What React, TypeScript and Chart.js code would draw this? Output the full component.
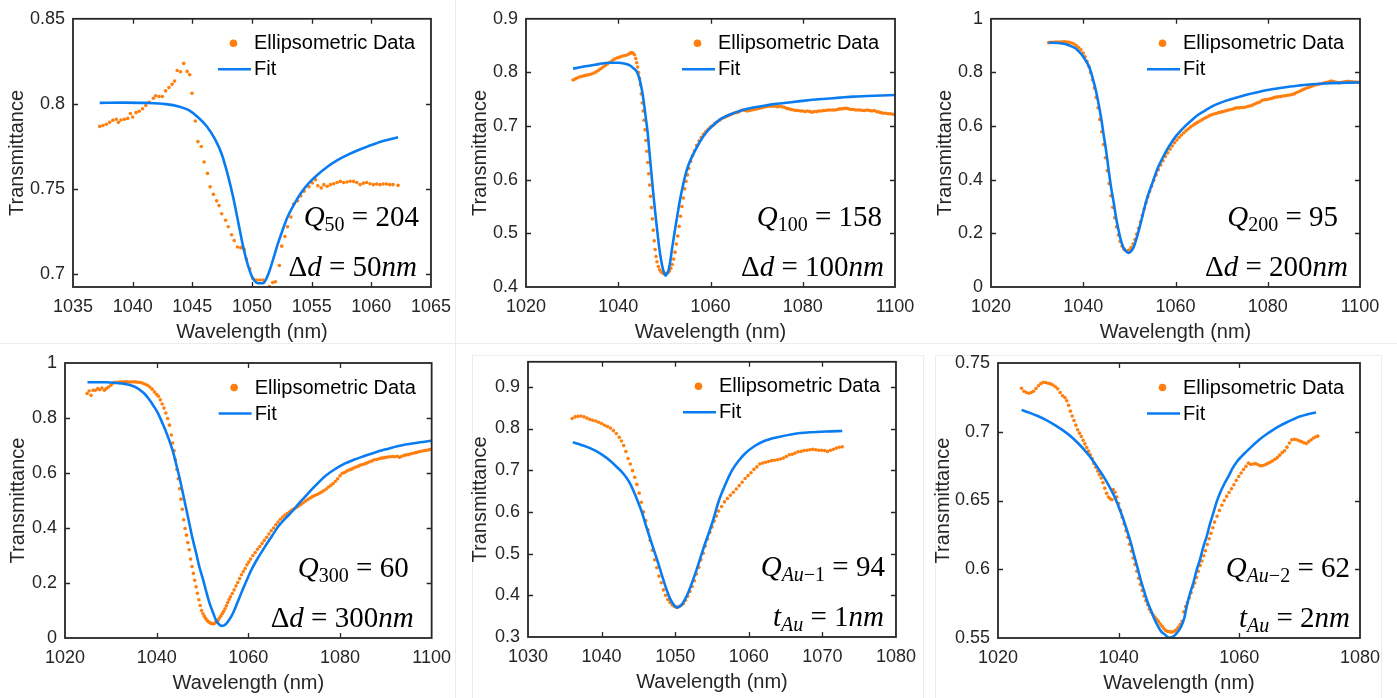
import React, { useEffect, useRef } from "react";
import { Chart, registerables } from "chart.js";
Chart.register(...registerables);

// ---------------- DATA ----------------
const legendLabels = ["Ellipsometric Data", "Fit"];
const xTitle = "Wavelength (nm)";
const yTitle = "Transmittance";

// Panel 1 (Δd = 50 nm)
const p1XTicks = [1035, 1040, 1045, 1050, 1055, 1060, 1065];
const p1YTicks = [0.7, 0.75, 0.8, 0.85];
const p1Data: [number, number][] = [
  [1037.24,0.7868],[1037.51,0.7873],[1037.79,0.7881],[1038.07,0.7892],[1038.34,0.7904],[1038.62,0.791],[1038.81,0.7892],[1039.03,0.7906],[1039.31,0.791],[1039.59,0.7915],
  [1039.81,0.7944],[1040.0,0.7923],[1040.28,0.7949],[1040.55,0.7957],[1040.83,0.7972],[1041.1,0.7991],[1041.38,0.801],[1041.74,0.8033],[1041.93,0.8048],[1042.21,0.8044],
  [1042.49,0.8044],[1042.76,0.8077],[1043.04,0.8096],[1043.31,0.8115],[1043.51,0.8134],[1043.73,0.8196],[1044.01,0.8189],[1044.28,0.8238],[1044.56,0.8191],[1044.78,0.8172],
  [1044.97,0.8063],[1045.25,0.79],[1045.47,0.7779],[1045.75,0.775],[1045.99,0.7659],[1046.27,0.7592],[1046.49,0.7513],[1046.77,0.7469],[1047.04,0.7431],[1047.24,0.7403],
  [1047.46,0.7355],[1047.79,0.7317],[1048.01,0.7279],[1048.29,0.7232],[1048.51,0.7198],[1048.78,0.716],[1049.06,0.7156],[1049.34,0.7146],[1049.53,0.7089],[1049.81,0.7032],
  [1050.08,0.6975],[1050.36,0.6966],[1050.64,0.6966],[1050.91,0.6966],[1051.19,0.6913],[1051.46,0.6928],[1051.74,0.6951],[1051.96,0.6956],[1052.29,0.7051],[1052.49,0.7165],
  [1052.76,0.7222],[1052.98,0.7279],[1053.26,0.7336],[1053.48,0.7412],[1053.81,0.7431],[1054.09,0.746],[1054.36,0.7488],[1054.78,0.7513],[1055.06,0.7536],[1055.33,0.7555],
  [1055.52,0.752],[1055.8,0.7507],[1056.02,0.7526],[1056.3,0.7517],[1056.57,0.7526],[1056.85,0.7531],[1057.13,0.7539],[1057.4,0.7545],[1057.68,0.7539],[1057.96,0.7542],
  [1058.23,0.7546],[1058.51,0.7545],[1058.78,0.7539],[1059.06,0.7526],[1059.34,0.7535],[1059.61,0.7539],[1059.89,0.7531],[1060.17,0.7526],[1060.44,0.753],[1060.72,0.7526],
  [1060.99,0.753],[1061.27,0.753],[1061.55,0.7526],[1061.82,0.7526],[1062.24,0.7522]
];
const p1Fit: [number, number][] = [
  [1037.24,0.8006],[1039.17,0.8008],[1041.1,0.8006],[1042.76,0.7999],[1043.87,0.7985],[1044.7,0.7963],[1045.52,0.7919],[1046.22,0.7868],[1046.91,0.7792],[1047.46,0.7706],
  [1048.01,0.7573],[1048.43,0.745],[1048.84,0.7308],[1049.25,0.7165],[1049.67,0.7051],[1050.08,0.6975],[1050.5,0.6947],[1050.91,0.6947],[1051.33,0.6994],[1051.74,0.708],
  [1052.15,0.7175],[1052.57,0.726],[1052.98,0.7336],[1053.54,0.7412],[1054.09,0.7475],[1054.78,0.7536],[1055.47,0.7583],[1056.3,0.763],[1057.13,0.7668],[1057.96,0.7699],
  [1058.78,0.7725],[1059.61,0.7748],[1060.72,0.7777],[1062.24,0.7805]
];
const p1Note1: [string, string][] = [["Q","i"],["50","sr"],[" = 204","r"]];
const p1Note2: [string, string][] = [["Δ","r"],["d","i"],[" = 50","r"],["nm","i"]];

// Panel 2 (Δd = 100 nm)
const p2XTicks = [1020, 1040, 1060, 1080, 1100];
const p2YTicks = [0.4, 0.5, 0.6, 0.7, 0.8, 0.9];
const p2Data: [number, number][] = [
  [1030.2,0.786],[1030.7,0.788],[1031.2,0.79],[1031.7,0.792],[1032.2,0.793],[1032.7,0.794],[1033.2,0.795],[1033.7,0.796],[1034.2,0.797],[1034.7,0.799],
  [1035.2,0.801],[1035.7,0.804],[1036.2,0.807],[1036.7,0.81],[1037.2,0.813],[1037.7,0.816],[1038.2,0.819],[1038.7,0.822],[1039.2,0.825],[1039.7,0.827],
  [1040.2,0.828],[1040.7,0.83],[1041.2,0.831],[1041.7,0.832],[1042.2,0.834],[1042.6,0.836],[1042.9,0.837],[1043.2,0.836],[1043.5,0.833],[1043.8,0.826],
  [1044.0,0.818],[1044.2,0.81],[1044.4,0.8],[1044.6,0.789],[1044.8,0.777],[1045.0,0.76],[1045.2,0.743],[1045.4,0.728],[1045.6,0.711],[1045.8,0.693],
  [1046.0,0.673],[1046.2,0.653],[1046.4,0.632],[1046.6,0.611],[1046.8,0.59],[1047.0,0.569],[1047.2,0.548],[1047.4,0.527],[1047.6,0.506],[1047.8,0.486],
  [1048.0,0.47],[1048.2,0.457],[1048.4,0.447],[1048.7,0.438],[1049.0,0.432],[1049.3,0.428],[1049.6,0.426],[1049.9,0.425],[1050.2,0.425],[1050.5,0.425],
  [1050.8,0.427],[1051.1,0.43],[1051.4,0.435],[1051.7,0.442],[1052.0,0.452],[1052.3,0.465],[1052.6,0.48],[1052.9,0.495],[1053.2,0.513],[1053.5,0.532],
  [1053.8,0.55],[1054.1,0.566],[1054.4,0.583],[1054.7,0.597],[1055.0,0.609],[1055.3,0.621],[1055.7,0.634],[1056.1,0.645],[1056.5,0.654],[1057.0,0.664],
  [1057.5,0.672],[1058.0,0.679],[1058.5,0.685],[1059.0,0.69],[1059.5,0.694],[1060.0,0.698],[1060.5,0.701],[1061.0,0.705],[1061.5,0.708],[1062.0,0.711],
  [1062.5,0.714],[1063.0,0.716],[1063.5,0.718],[1064.0,0.72],[1064.5,0.722],[1065.0,0.724],[1065.5,0.725],[1066.0,0.726],[1066.5,0.728],[1067.0,0.73],
  [1067.5,0.729],[1068.0,0.728],[1068.5,0.729],[1069.0,0.73],[1069.5,0.731],[1070.0,0.732],[1070.5,0.733],[1071.0,0.734],[1071.5,0.735],[1072.0,0.736],
  [1072.5,0.737],[1073.0,0.737],[1073.5,0.737],[1074.0,0.737],[1074.5,0.736],[1075.0,0.737],[1075.5,0.736],[1076.0,0.735],[1076.5,0.733],[1077.0,0.732],
  [1077.5,0.731],[1078.0,0.73],[1078.5,0.729],[1079.0,0.729],[1079.5,0.728],[1080.0,0.728],[1080.5,0.727],[1081.0,0.728],[1081.5,0.727],[1082.0,0.726],
  [1082.5,0.727],[1083.0,0.727],[1083.5,0.728],[1084.0,0.728],[1084.5,0.729],[1085.0,0.729],[1085.5,0.73],[1086.0,0.73],[1086.5,0.73],[1087.0,0.73],
  [1087.5,0.731],[1088.0,0.732],[1088.5,0.732],[1089.0,0.733],[1089.5,0.733],[1090.0,0.732],[1090.5,0.731],[1091.0,0.731],[1091.5,0.73],[1092.0,0.73],
  [1092.5,0.73],[1093.0,0.729],[1093.5,0.729],[1094.0,0.73],[1094.5,0.729],[1095.0,0.728],[1095.5,0.729],[1096.0,0.727],[1096.5,0.726],[1097.0,0.725],
  [1097.5,0.724],[1098.0,0.724],[1098.5,0.723],[1099.0,0.723],[1099.5,0.722],[1100.0,0.722]
];
const p2Fit: [number, number][] = [
  [1030.2,0.807],[1032,0.81],[1034,0.813],[1036,0.816],[1038,0.818],[1040,0.818],[1041.5,0.816],[1042.5,0.813],[1043.3,0.808],[1043.9,0.803],
  [1044.3,0.796],[1044.6,0.788],[1045.0,0.773],[1045.3,0.759],[1045.7,0.734],[1046.1,0.707],[1046.4,0.686],[1046.8,0.648],[1047.2,0.611],[1047.5,0.583],
  [1047.9,0.549],[1048.2,0.524],[1048.6,0.494],[1049.0,0.466],[1049.3,0.45],[1049.7,0.433],[1050.0,0.425],[1050.25,0.421],[1050.5,0.424],[1050.9,0.431],
  [1051.3,0.449],[1051.6,0.468],[1052.0,0.49],[1052.4,0.512],[1052.9,0.538],[1053.4,0.563],[1054.0,0.588],[1054.5,0.607],[1055.2,0.627],[1056.0,0.643],
  [1057.0,0.66],[1058.0,0.675],[1059.0,0.687],[1060.0,0.697],[1061.0,0.705],[1062.0,0.712],[1063.5,0.719],[1065.0,0.724],[1067.0,0.73],[1069.0,0.734],
  [1071.0,0.737],[1073.0,0.74],[1076.0,0.743],[1079.0,0.746],[1082.0,0.749],[1085.0,0.751],[1088.0,0.753],[1091.0,0.755],[1094.0,0.756],[1097.0,0.757],[1100.0,0.758]
];
const p2Note1: [string, string][] = [["Q","i"],["100","sr"],[" = 158","r"]];
const p2Note2: [string, string][] = [["Δ","r"],["d","i"],[" = 100","r"],["nm","i"]];

// Panel 3 (Δd = 200 nm)
const p3XTicks = [1020, 1040, 1060, 1080, 1100];
const p3YTicks = [0, 0.2, 0.4, 0.6, 0.8, 1];
const p3Data: [number, number][] = [
  [1032.5,0.911],[1033.0,0.912],[1033.5,0.912],[1034.0,0.913],[1034.5,0.913],[1035.0,0.913],[1035.5,0.914],[1036.0,0.914],[1036.5,0.913],[1037.0,0.912],
  [1037.5,0.91],[1038.0,0.906],[1038.5,0.9],[1039.0,0.893],[1039.5,0.884],[1040.0,0.872],[1040.4,0.858],[1040.8,0.842],[1041.2,0.823],[1041.6,0.8],
  [1042.0,0.773],[1042.4,0.742],[1042.8,0.707],[1043.2,0.668],[1043.6,0.625],[1044.0,0.579],[1044.4,0.531],[1044.8,0.482],[1045.2,0.434],[1045.6,0.386],
  [1046.0,0.34],[1046.4,0.297],[1046.8,0.258],[1047.2,0.224],[1047.6,0.194],[1048.0,0.17],[1048.4,0.153],[1048.8,0.142],[1049.2,0.136],[1049.6,0.134],
  [1050.0,0.138],[1050.4,0.147],[1050.8,0.16],[1051.2,0.177],[1051.6,0.197],[1052.0,0.219],[1052.4,0.243],[1052.8,0.267],[1053.2,0.291],[1053.6,0.314],
  [1054.0,0.336],[1054.4,0.356],[1054.8,0.376],[1055.3,0.398],[1055.8,0.418],[1056.3,0.437],[1056.8,0.455],[1057.3,0.471],[1057.8,0.487],[1058.3,0.5],
  [1058.8,0.514],[1059.3,0.526],[1059.8,0.538],[1060.3,0.548],[1060.8,0.558],[1061.3,0.567],[1061.8,0.575],[1062.3,0.583],[1062.8,0.59],[1063.3,0.597],
  [1063.8,0.603],[1064.3,0.609],[1064.8,0.614],[1065.3,0.619],[1065.8,0.624],[1066.3,0.629],[1066.8,0.634],[1067.3,0.638],[1067.8,0.642],[1068.3,0.645],
  [1068.8,0.647],[1069.3,0.65],[1069.8,0.652],[1070.3,0.654],[1070.8,0.656],[1071.3,0.659],[1071.8,0.661],[1072.3,0.663],[1072.8,0.666],[1073.3,0.668],
  [1073.8,0.668],[1074.3,0.669],[1074.8,0.669],[1075.3,0.671],[1075.8,0.674],[1076.3,0.676],[1076.8,0.679],[1077.3,0.683],[1077.8,0.687],[1078.3,0.69],
  [1078.8,0.696],[1079.3,0.698],[1079.8,0.699],[1080.3,0.701],[1080.8,0.703],[1081.3,0.706],[1081.8,0.708],[1082.3,0.709],[1082.8,0.71],[1083.3,0.712],
  [1083.8,0.713],[1084.3,0.715],[1084.8,0.716],[1085.3,0.718],[1085.8,0.721],[1086.3,0.725],[1086.8,0.729],[1087.3,0.733],[1087.8,0.737],[1088.3,0.741],
  [1088.8,0.744],[1089.3,0.747],[1089.8,0.75],[1090.3,0.753],[1090.8,0.755],[1091.3,0.757],[1091.8,0.759],[1092.3,0.761],[1092.8,0.763],[1093.3,0.765],
  [1093.8,0.768],[1094.3,0.766],[1094.8,0.763],[1095.3,0.761],[1095.8,0.762],[1096.3,0.764],[1096.8,0.765],[1097.3,0.767],[1097.8,0.766],[1098.3,0.765],
  [1098.8,0.764],[1099.3,0.764],[1099.8,0.763]
];
const p3Fit: [number, number][] = [
  [1032.5,0.911],[1034.5,0.91],[1036.1,0.906],[1037.2,0.899],[1038.3,0.89],[1039.0,0.879],[1039.7,0.866],[1040.4,0.848],[1041.2,0.824],[1041.7,0.799],
  [1042.2,0.769],[1042.8,0.728],[1043.3,0.685],[1043.9,0.628],[1044.4,0.57],[1045.0,0.503],[1045.5,0.437],[1046.0,0.375],[1046.6,0.316],[1047.1,0.26],
  [1047.7,0.208],[1048.2,0.172],[1048.7,0.147],[1049.3,0.133],[1049.8,0.127],[1050.3,0.132],[1050.9,0.147],[1051.4,0.172],[1052.0,0.208],[1052.7,0.255],
  [1053.4,0.304],[1054.1,0.345],[1054.9,0.383],[1055.6,0.418],[1056.3,0.449],[1057.2,0.481],[1058.1,0.51],[1059.0,0.535],[1059.9,0.558],[1061.0,0.58],
  [1062.1,0.6],[1063.5,0.622],[1065.0,0.643],[1066.8,0.662],[1068.6,0.679],[1070.7,0.693],[1072.9,0.705],[1075.4,0.717],[1078.0,0.727],[1080.9,0.737],
  [1083.8,0.745],[1086.7,0.751],[1089.5,0.756],[1092.4,0.759],[1095.3,0.761],[1097.6,0.762],[1100.0,0.763]
];
const p3Note1: [string, string][] = [["Q","i"],["200","sr"],[" = 95","r"]];
const p3Note2: [string, string][] = [["Δ","r"],["d","i"],[" = 200","r"],["nm","i"]];

// Panel 4 (Δd = 300 nm)
const p4XTicks = [1020, 1040, 1060, 1080, 1100];
const p4YTicks = [0, 0.2, 0.4, 0.6, 0.8, 1];
const p4Data: [number, number][] = [
  [1024.83,0.889],[1025.26,0.898],[1025.69,0.883],[1026.13,0.901],[1026.63,0.901],[1027.14,0.907],[1027.57,0.903],[1028.07,0.909],[1028.58,0.901],[1029.01,0.907],
  [1029.51,0.913],[1030.02,0.919],[1030.52,0.927],[1031.03,0.93],[1031.53,0.93],[1032.04,0.932],[1032.54,0.931],[1033.05,0.932],[1033.55,0.932],[1034.05,0.931],
  [1034.56,0.931],[1035.06,0.932],[1035.5,0.931],[1036.0,0.93],[1036.5,0.929],[1037.0,0.926],[1037.5,0.923],[1038.0,0.919],[1038.5,0.913],[1039.0,0.905],
  [1039.5,0.895],[1040.0,0.886],[1040.4,0.879],[1040.8,0.866],[1041.2,0.851],[1041.6,0.836],[1042.0,0.818],[1042.4,0.798],[1042.8,0.774],[1043.2,0.738],
  [1043.5,0.709],[1043.8,0.681],[1044.1,0.648],[1044.4,0.613],[1044.7,0.579],[1045.0,0.543],[1045.3,0.505],[1045.6,0.468],[1045.9,0.43],[1046.2,0.398],
  [1046.5,0.374],[1046.8,0.347],[1047.1,0.321],[1047.4,0.287],[1047.7,0.26],[1048.0,0.235],[1048.3,0.21],[1048.6,0.186],[1048.9,0.163],[1049.2,0.139],
  [1049.5,0.118],[1049.8,0.1],[1050.1,0.088],[1050.4,0.079],[1050.7,0.071],[1051.0,0.064],[1051.3,0.059],[1051.6,0.056],[1051.9,0.053],[1052.2,0.052],
  [1052.5,0.052],[1052.8,0.056],[1053.1,0.06],[1053.4,0.065],[1053.7,0.073],[1054.0,0.08],[1054.3,0.088],[1054.6,0.096],[1054.9,0.106],[1055.2,0.117],
  [1055.5,0.129],[1055.8,0.14],[1056.1,0.15],[1056.5,0.162],[1056.9,0.175],[1057.3,0.189],[1057.7,0.202],[1058.1,0.216],[1058.5,0.23],[1058.9,0.242],
  [1059.3,0.253],[1059.7,0.266],[1060.1,0.276],[1060.5,0.287],[1061.0,0.3],[1061.5,0.311],[1062.0,0.323],[1062.5,0.333],[1063.0,0.344],[1063.5,0.355],
  [1064.0,0.366],[1064.5,0.378],[1065.0,0.39],[1065.5,0.4],[1066.0,0.412],[1066.5,0.422],[1067.0,0.432],[1067.5,0.44],[1068.0,0.447],[1068.5,0.453],
  [1069.0,0.459],[1069.5,0.465],[1070.0,0.47],[1070.5,0.475],[1071.0,0.48],[1071.5,0.486],[1072.0,0.492],[1072.5,0.498],[1073.0,0.504],[1073.5,0.509],
  [1074.0,0.514],[1074.5,0.518],[1075.0,0.522],[1075.5,0.526],[1076.0,0.531],[1076.5,0.536],[1077.0,0.542],[1077.5,0.549],[1078.0,0.555],[1078.5,0.562],
  [1079.0,0.57],[1079.5,0.579],[1080.0,0.59],[1080.5,0.599],[1081.0,0.602],[1081.5,0.607],[1082.0,0.611],[1082.5,0.614],[1083.0,0.618],[1083.5,0.622],
  [1084.0,0.625],[1084.5,0.629],[1085.0,0.631],[1085.5,0.634],[1086.0,0.637],[1086.5,0.641],[1087.0,0.644],[1087.5,0.648],[1088.0,0.649],[1088.5,0.652],
  [1089.0,0.654],[1089.5,0.655],[1090.0,0.657],[1090.5,0.658],[1091.0,0.659],[1091.5,0.66],[1092.0,0.659],[1092.5,0.661],[1093.0,0.657],[1093.5,0.661],
  [1094.0,0.664],[1094.5,0.666],[1095.0,0.667],[1095.5,0.67],[1096.0,0.672],[1096.5,0.674],[1097.0,0.676],[1097.5,0.678],[1098.0,0.68],[1098.5,0.682],
  [1099.0,0.683],[1099.5,0.685],[1100.0,0.686]
];
const p4Fit: [number, number][] = [
  [1024.9,0.93],[1027.0,0.93],[1029.0,0.93],[1031.3,0.927],[1033.0,0.924],[1034.3,0.919],[1035.5,0.911],[1036.5,0.9],[1037.3,0.889],[1038.3,0.869],
  [1039.4,0.842],[1040.3,0.817],[1041.25,0.782],[1042.0,0.752],[1042.7,0.721],[1043.5,0.681],[1044.2,0.636],[1045.0,0.582],[1045.7,0.528],[1046.4,0.474],
  [1047.1,0.419],[1047.8,0.364],[1048.6,0.31],[1049.3,0.26],[1050.1,0.214],[1050.8,0.17],[1051.5,0.129],[1052.3,0.092],[1053.0,0.063],[1053.6,0.05],
  [1054.1,0.044],[1054.6,0.045],[1055.2,0.052],[1055.9,0.068],[1056.7,0.092],[1057.6,0.128],[1058.5,0.165],[1059.6,0.208],[1060.7,0.249],[1062.2,0.294],
  [1063.7,0.334],[1065.2,0.372],[1066.6,0.407],[1068.1,0.435],[1069.6,0.461],[1071.0,0.489],[1072.5,0.516],[1074.0,0.543],[1075.4,0.567],[1077.0,0.592],
  [1079.0,0.615],[1081.0,0.634],[1083.0,0.648],[1085.0,0.66],[1087.5,0.674],[1090.0,0.686],[1093.0,0.699],[1096.5,0.709],[1100.0,0.717]
];
const p4Note1: [string, string][] = [["Q","i"],["300","sr"],[" = 60","r"]];
const p4Note2: [string, string][] = [["Δ","r"],["d","i"],[" = 300","r"],["nm","i"]];

// Panel 5 (t_Au = 1 nm)
const p5XTicks = [1030, 1040, 1050, 1060, 1070, 1080];
const p5YTicks = [0.3, 0.4, 0.5, 0.6, 0.7, 0.8, 0.9];
const p5Data: [number, number][] = [
  [1036.0,0.824],[1036.4,0.828],[1036.8,0.829],[1037.2,0.83],[1037.6,0.828],[1038.0,0.825],[1038.4,0.822],[1038.8,0.82],[1039.2,0.818],[1039.6,0.815],
  [1040.0,0.812],[1040.4,0.808],[1040.8,0.805],[1041.2,0.801],[1041.6,0.795],[1042.0,0.788],[1042.4,0.779],[1042.7,0.77],[1043.0,0.759],[1043.3,0.745],
  [1043.6,0.728],[1043.9,0.715],[1044.2,0.699],[1044.5,0.683],[1044.8,0.666],[1045.1,0.645],[1045.4,0.623],[1045.7,0.6],[1046.0,0.579],[1046.3,0.557],
  [1046.6,0.532],[1046.9,0.508],[1047.2,0.485],[1047.5,0.466],[1047.8,0.446],[1048.1,0.43],[1048.4,0.413],[1048.7,0.4],[1049.0,0.39],[1049.3,0.383],
  [1049.6,0.377],[1049.9,0.373],[1050.2,0.371],[1050.5,0.373],[1050.8,0.376],[1051.1,0.38],[1051.4,0.388],[1051.7,0.398],[1052.0,0.409],[1052.3,0.421],
  [1052.6,0.435],[1052.9,0.451],[1053.2,0.467],[1053.5,0.485],[1053.8,0.501],[1054.1,0.518],[1054.4,0.535],[1054.7,0.551],[1055.0,0.564],[1055.3,0.578],
  [1055.6,0.59],[1055.9,0.602],[1056.3,0.613],[1056.7,0.624],[1057.1,0.632],[1057.5,0.64],[1057.9,0.647],[1058.3,0.655],[1058.7,0.663],[1059.1,0.671],
  [1059.5,0.68],[1059.9,0.687],[1060.3,0.694],[1060.7,0.702],[1061.1,0.708],[1061.5,0.715],[1061.9,0.717],[1062.3,0.719],[1062.7,0.721],[1063.1,0.723],
  [1063.5,0.724],[1063.9,0.725],[1064.3,0.727],[1064.7,0.729],[1065.1,0.733],[1065.5,0.737],[1065.9,0.738],[1066.3,0.741],[1066.7,0.744],[1067.1,0.745],
  [1067.5,0.747],[1067.9,0.748],[1068.3,0.749],[1068.7,0.75],[1069.1,0.749],[1069.5,0.748],[1069.9,0.748],[1070.3,0.747],[1070.7,0.745],[1071.1,0.748],
  [1071.5,0.75],[1071.9,0.753],[1072.3,0.755],[1072.7,0.756]
];
const p5Fit: [number, number][] = [
  [1036.1,0.767],[1037.0,0.762],[1038.0,0.756],[1039.0,0.748],[1040.0,0.738],[1041.0,0.725],[1042.0,0.709],[1043.0,0.691],[1043.7,0.673],[1044.3,0.652],
  [1044.9,0.626],[1045.5,0.598],[1046.0,0.569],[1046.5,0.541],[1047.0,0.514],[1047.6,0.482],[1048.2,0.448],[1048.8,0.415],[1049.3,0.392],[1049.7,0.38],
  [1050.0,0.374],[1050.3,0.371],[1050.6,0.373],[1050.9,0.378],[1051.3,0.389],[1051.8,0.408],[1052.3,0.431],[1052.9,0.461],[1053.5,0.494],[1054.1,0.526],
  [1054.7,0.556],[1055.2,0.583],[1055.9,0.625],[1056.8,0.665],[1057.7,0.699],[1058.6,0.722],[1059.5,0.74],[1060.8,0.758],[1062.1,0.77],[1063.9,0.779],
  [1066.1,0.787],[1068.3,0.791],[1070.5,0.793],[1072.7,0.794]
];
const p5Note1: [string, string][] = [["Q","i"],["Au","si"],["−1","sr"],[" = 94","r"]];
const p5Note2: [string, string][] = [["t","i"],["Au","si"],[" = 1","r"],["nm","i"]];

// Panel 6 (t_Au = 2 nm)
const p6XTicks = [1020, 1040, 1060, 1080];
const p6YTicks = [0.55, 0.6, 0.65, 0.7, 0.75];
const p6Data: [number, number][] = [
  [1023.9,0.7316],[1024.3,0.7295],[1024.7,0.7285],[1025.1,0.728],[1025.5,0.7285],[1025.9,0.7295],[1026.3,0.7315],[1026.7,0.7335],[1027.1,0.735],[1027.5,0.736],
  [1027.9,0.7358],[1028.3,0.7353],[1028.7,0.7348],[1029.1,0.734],[1029.5,0.7328],[1029.9,0.7312],[1030.3,0.7285],[1030.7,0.7262],[1031.1,0.7248],[1031.4,0.7225],
  [1031.7,0.7192],[1032.0,0.715],[1032.3,0.7115],[1032.6,0.7082],[1032.9,0.7048],[1033.2,0.7015],[1033.5,0.699],[1033.8,0.6965],[1034.1,0.6938],[1034.4,0.6912],
  [1034.7,0.6885],[1035.0,0.6859],[1035.3,0.6832],[1035.6,0.6805],[1035.9,0.677],[1036.2,0.6742],[1036.5,0.6715],[1036.8,0.669],[1037.1,0.6663],[1037.4,0.663],
  [1037.7,0.659],[1038.0,0.6552],[1038.3,0.6525],[1038.6,0.6512],[1038.9,0.6505],[1039.1,0.658],[1039.4,0.656],[1039.7,0.6525],[1040.0,0.6478],[1040.3,0.6428],
  [1040.6,0.6378],[1040.9,0.633],[1041.2,0.628],[1041.5,0.6232],[1041.8,0.6182],[1042.1,0.6132],[1042.4,0.6082],[1042.7,0.6034],[1043.0,0.5985],[1043.3,0.5935],
  [1043.6,0.589],[1043.9,0.5845],[1044.2,0.5805],[1044.5,0.5772],[1044.8,0.5742],[1045.1,0.571],[1045.4,0.5688],[1045.7,0.5668],[1046.0,0.5652],[1046.3,0.5636],
  [1046.6,0.562],[1046.9,0.5602],[1047.2,0.5586],[1047.5,0.5568],[1047.8,0.5555],[1048.1,0.5548],[1048.4,0.5545],[1048.7,0.5544],[1049.0,0.5546],[1049.3,0.5552],
  [1049.6,0.5562],[1049.9,0.5578],[1050.2,0.5597],[1050.5,0.5622],[1050.8,0.569],[1051.1,0.5728],[1051.4,0.5758],[1051.7,0.5793],[1052.0,0.583],[1052.3,0.5872],
  [1052.6,0.59],[1052.9,0.594],[1053.2,0.5985],[1053.5,0.6028],[1053.8,0.606],[1054.1,0.6098],[1054.4,0.6135],[1054.7,0.618],[1055.0,0.6222],[1055.3,0.6262],
  [1055.6,0.6302],[1055.9,0.6343],[1056.3,0.6385],[1056.7,0.6428],[1057.1,0.6465],[1057.5,0.65],[1057.9,0.653],[1058.3,0.6558],[1058.7,0.6585],[1059.1,0.6615],
  [1059.5,0.6645],[1059.9,0.6675],[1060.3,0.67],[1060.7,0.6725],[1061.1,0.6748],[1061.5,0.6772],[1061.9,0.6762],[1062.3,0.6765],[1062.7,0.6768],[1063.1,0.676],
  [1063.5,0.6752],[1063.9,0.6755],[1064.3,0.676],[1064.7,0.677],[1065.1,0.6778],[1065.5,0.6788],[1065.9,0.68],[1066.3,0.6812],[1066.7,0.683],[1067.1,0.6848],
  [1067.5,0.6862],[1067.9,0.6888],[1068.3,0.6918],[1068.7,0.6942],[1069.1,0.6946],[1069.5,0.6942],[1069.9,0.6935],[1070.3,0.6928],[1070.7,0.692],[1071.1,0.6914],
  [1071.5,0.6928],[1071.9,0.6942],[1072.3,0.6955],[1072.7,0.6964],[1073.0,0.6968]
];
const p6Fit: [number, number][] = [
  [1023.9,0.7159],[1025.0,0.7142],[1026.5,0.7116],[1028.0,0.7084],[1029.5,0.7046],[1031.0,0.7003],[1032.1,0.6966],[1033.2,0.692],[1034.3,0.6869],[1035.2,0.6822],
  [1036.0,0.6772],[1036.8,0.672],[1037.6,0.6666],[1038.5,0.6598],[1039.3,0.653],[1040.0,0.6455],[1040.7,0.6373],[1041.4,0.628],[1042.1,0.618],[1042.6,0.6095],
  [1043.2,0.5999],[1043.7,0.5915],[1044.3,0.5829],[1044.8,0.576],[1045.4,0.5696],[1045.9,0.564],[1046.5,0.5587],[1047.0,0.555],[1047.6,0.5527],[1048.0,0.551],
  [1048.4,0.5502],[1048.8,0.5506],[1049.3,0.5519],[1049.8,0.5545],[1050.4,0.5587],[1050.9,0.565],[1051.3,0.5735],[1051.8,0.582],[1052.4,0.5905],[1052.9,0.599],
  [1053.5,0.6074],[1054.0,0.6158],[1054.6,0.624],[1055.1,0.6325],[1055.7,0.641],[1056.2,0.6485],[1056.8,0.6555],[1057.5,0.662],[1058.2,0.6675],[1058.8,0.6728],
  [1059.5,0.6777],[1060.3,0.6818],[1061.2,0.6857],[1062.3,0.6903],[1063.4,0.6946],[1064.5,0.6982],[1065.6,0.7014],[1066.7,0.7042],[1067.8,0.7067],[1068.9,0.709],
  [1070.0,0.7111],[1071.3,0.7127],[1072.7,0.714]
];
const p6Note1: [string, string][] = [["Q","i"],["Au","si"],["−2","sr"],[" = 62","r"]];
const p6Note2: [string, string][] = [["t","i"],["Au","si"],[" = 2","r"],["nm","i"]];

// ---------------- STYLE / LAYOUT ----------------
const ORANGE = "#ff7f0e";
const BLUE = "#0a7cf2";
const AXIS = "#262626";
const SANS = '"Liberation Sans", Arial, Helvetica, sans-serif';
const SERIF = '"Liberation Serif", "Times New Roman", serif';
const MAIN_PX = 29;
const SUB_PX = 20;
const SUB_SHIFT = 5;

type Rect = { x: number; y: number; w: number; h: number };
type Plot = { l: number; t: number; r: number; b: number };
type PanelCfg = {
  canvas: Rect; plot: Plot; yTitleX: number; xTitleY: number;
  xMin: number; xMax: number; yMin: number; yMax: number;
  xTicks: number[]; yTicks: number[];
  data: [number, number][]; fit: [number, number][];
  note1: [string, string][]; note2: [string, string][];
  note1Right: number; note2Right: number;
};

const panels: PanelCfg[] = [
  { canvas: { x: 0, y: 0, w: 460, h: 350 }, plot: { l: 73, t: 11, r: 435, b: 287 }, yTitleX: 17, xTitleY: 332,
    xMin: 1035, xMax: 1065, yMin: 0.6925, yMax: 0.85, xTicks: p1XTicks, yTicks: p1YTicks, data: p1Data, fit: p1Fit,
    note1: p1Note1, note2: p1Note2, note1Right: 12, note2Right: 14 },
  { canvas: { x: 460, y: 0, w: 465, h: 350 }, plot: { l: 526, t: 11, r: 895, b: 287 }, yTitleX: 480, xTitleY: 332,
    xMin: 1020, xMax: 1100, yMin: 0.4, yMax: 0.9, xTicks: p2XTicks, yTicks: p2YTicks, data: p2Data, fit: p2Fit,
    note1: p2Note1, note2: p2Note2, note1Right: 13, note2Right: 11 },
  { canvas: { x: 925, y: 0, w: 472, h: 350 }, plot: { l: 991, t: 11, r: 1360, b: 287 }, yTitleX: 945, xTitleY: 332,
    xMin: 1020, xMax: 1100, yMin: 0, yMax: 1, xTicks: p3XTicks, yTicks: p3YTicks, data: p3Data, fit: p3Fit,
    note1: p3Note1, note2: p3Note2, note1Right: 22, note2Right: 12 },
  { canvas: { x: 0, y: 343, w: 460, h: 355 }, plot: { l: 65, t: 363, r: 435, b: 638 }, yTitleX: 18, xTitleY: 683,
    xMin: 1020, xMax: 1100, yMin: 0, yMax: 1, xTicks: p4XTicks, yTicks: p4YTicks, data: p4Data, fit: p4Fit,
    note1: p4Note1, note2: p4Note2, note1Right: 23, note2Right: 18 },
  { canvas: { x: 460, y: 343, w: 465, h: 355 }, plot: { l: 528, t: 358, r: 902, b: 637 }, yTitleX: 480, xTitleY: 682,
    xMin: 1030, xMax: 1080, yMin: 0.3, yMax: 0.96, xTicks: p5XTicks, yTicks: p5YTicks, data: p5Data, fit: p5Fit,
    note1: p5Note1, note2: p5Note2, note1Right: 11, note2Right: 12 },
  { canvas: { x: 925, y: 343, w: 472, h: 355 }, plot: { l: 998, t: 363, r: 1360, b: 638 }, yTitleX: 943, xTitleY: 683,
    xMin: 1020, xMax: 1080, yMin: 0.55, yMax: 0.75, xTicks: p6XTicks, yTicks: p6YTicks, data: p6Data, fit: p6Fit,
    note1: p6Note1, note2: p6Note2, note1Right: 10, note2Right: 10 },
];

function drawMath(ctx: CanvasRenderingContext2D, pieces: [string, string][], right: number, baseline: number) {
  const fontFor = (k: string) => `${k.includes("i") ? "italic " : ""}${k.startsWith("s") ? SUB_PX : MAIN_PX}px ${SERIF}`;
  let total = 0;
  const ws = pieces.map(([t, k]) => { ctx.font = fontFor(k); const w = ctx.measureText(t).width; total += w; return w; });
  let x = right - total;
  pieces.forEach(([t, k], i) => {
    ctx.font = fontFor(k);
    ctx.fillText(t, x, baseline + (k.startsWith("s") ? SUB_SHIFT : 0));
    x += ws[i];
  });
}

function Panel({ cfg }: { cfg: PanelCfg }) {
  const ref = useRef<HTMLCanvasElement>(null);
  useEffect(() => {
    const { canvas: cv, plot } = cfg;
    const yW = plot.l - cv.x;
    const padTop = plot.t - cv.y;
    const padRight = cv.x + cv.w - plot.r;
    const xH = cv.y + cv.h - plot.b;
    const titleLH = 24;
    const xTitlePadBottom = Math.max(0, cv.y + cv.h - cfg.xTitleY - titleLH / 2);
    const yTitlePadTop = Math.max(0, cfg.yTitleX - cv.x - titleLH / 2);

    const framePlugin = {
      id: "frame",
      afterDraw(chart: any) {
        const { ctx, chartArea: a, scales } = chart;
        ctx.save();
        ctx.strokeStyle = AXIS;
        ctx.lineWidth = 1.3;
        const tl = 5;
        ctx.beginPath();
        scales.x.ticks.forEach((t: any) => {
          const px = Math.round(scales.x.getPixelForValue(t.value)) + 0.5;
          if (px <= a.left + 1 || px >= a.right - 1) return;
          ctx.moveTo(px, a.bottom); ctx.lineTo(px, a.bottom - tl);
          ctx.moveTo(px, a.top); ctx.lineTo(px, a.top + tl);
        });
        scales.y.ticks.forEach((t: any) => {
          const py = Math.round(scales.y.getPixelForValue(t.value)) + 0.5;
          if (py <= a.top + 1 || py >= a.bottom - 1) return;
          ctx.moveTo(a.left, py); ctx.lineTo(a.left + tl, py);
          ctx.moveTo(a.right, py); ctx.lineTo(a.right - tl, py);
        });
        ctx.stroke();
        ctx.lineWidth = 1.8;
        ctx.strokeRect(a.left, a.top, a.right - a.left, a.bottom - a.top);

        // legend
        const textX = a.right - 177;
        ctx.fillStyle = ORANGE;
        ctx.beginPath();
        ctx.arc(a.right - 197.5, a.top + 24.5, 3.8, 0, Math.PI * 2);
        ctx.fill();
        ctx.strokeStyle = BLUE;
        ctx.lineWidth = 2.6;
        ctx.beginPath();
        ctx.moveTo(a.right - 213, a.top + 50.5);
        ctx.lineTo(a.right - 180, a.top + 50.5);
        ctx.stroke();
        ctx.fillStyle = "#000";
        ctx.font = `20px ${SANS}`;
        ctx.textAlign = "left";
        ctx.textBaseline = "middle";
        ctx.fillText(legendLabels[0], textX, a.top + 25);
        ctx.fillText(legendLabels[1], textX, a.top + 51);

        // annotations
        ctx.textBaseline = "alphabetic";
        drawMath(ctx, cfg.note1, a.right - cfg.note1Right, a.bottom - 61);
        drawMath(ctx, cfg.note2, a.right - cfg.note2Right, a.bottom - 11.5);
        ctx.restore();
      },
    };

    const chart = new Chart(ref.current as HTMLCanvasElement, {
      type: "scatter",
      data: {
        datasets: [
          {
            label: legendLabels[1],
            data: cfg.fit.map(([x, y]) => ({ x, y })),
            showLine: true,
            borderColor: BLUE,
            borderWidth: 2.6,
            pointRadius: 0,
            cubicInterpolationMode: "monotone",
            order: 0,
          } as any,
          {
            label: legendLabels[0],
            data: cfg.data.map(([x, y]) => ({ x, y })),
            showLine: false,
            pointRadius: 1.8,
            pointBackgroundColor: ORANGE,
            pointBorderWidth: 0,
            borderColor: ORANGE,
            order: 1,
          } as any,
        ],
      },
      options: {
        animation: false,
        responsive: false,
        devicePixelRatio: 1,
        layout: { padding: { left: 0, top: padTop, right: padRight, bottom: 0 } },
        plugins: { legend: { display: false }, tooltip: { enabled: false } },
        scales: {
          x: {
            type: "linear",
            min: cfg.xMin,
            max: cfg.xMax,
            afterBuildTicks: (s: any) => { s.ticks = cfg.xTicks.map((v) => ({ value: v })); },
            afterFit: (s: any) => { s.height = xH; },
            grid: { display: false, drawTicks: false },
            border: { display: false },
            ticks: {
              autoSkip: false, maxRotation: 0, minRotation: 0, padding: 9,
              color: AXIS, font: { family: SANS, size: 18 },
              callback: (v: any) => String(v),
            },
            title: { display: true, text: xTitle, color: AXIS, font: { family: SANS, size: 20 }, padding: { top: 0, bottom: xTitlePadBottom } },
          },
          y: {
            type: "linear",
            min: cfg.yMin,
            max: cfg.yMax,
            afterBuildTicks: (s: any) => { s.ticks = cfg.yTicks.map((v) => ({ value: v })); },
            afterFit: (s: any) => { s.width = yW; },
            grid: { display: false, drawTicks: false },
            border: { display: false },
            ticks: {
              autoSkip: false, padding: 8,
              color: AXIS, font: { family: SANS, size: 18 },
              callback: (v: any) => String(v),
            },
            title: { display: true, text: yTitle, color: AXIS, font: { family: SANS, size: 20 }, padding: { top: yTitlePadTop, bottom: 0 } },
          },
        },
      } as any,
      plugins: [framePlugin as any],
    });
    return () => chart.destroy();
  }, [cfg]);
  return (
    <canvas
      ref={ref}
      width={cfg.canvas.w}
      height={cfg.canvas.h}
      style={{ position: "absolute", left: cfg.canvas.x, top: cfg.canvas.y, width: cfg.canvas.w, height: cfg.canvas.h }}
    />
  );
}

export default function App() {
  const faint = "#ececec";
  return (
    <div style={{ position: "fixed", left: 0, top: 0, width: 1397, height: 698, background: "#fff", overflow: "hidden" }}>
      <div style={{ position: "absolute", left: 0, top: 343, width: 1397, height: 1, background: faint }} />
      <div style={{ position: "absolute", left: 455, top: 0, width: 1, height: 698, background: faint }} />
      <div style={{ position: "absolute", left: 472, top: 355, width: 450, height: 343, border: `1px solid ${faint}`, borderBottom: "none" }} />
      <div style={{ position: "absolute", left: 935, top: 355, width: 445, height: 343, border: `1px solid ${faint}`, borderBottom: "none" }} />
      {panels.map((p, i) => (
        <Panel key={i} cfg={p} />
      ))}
    </div>
  );
}
